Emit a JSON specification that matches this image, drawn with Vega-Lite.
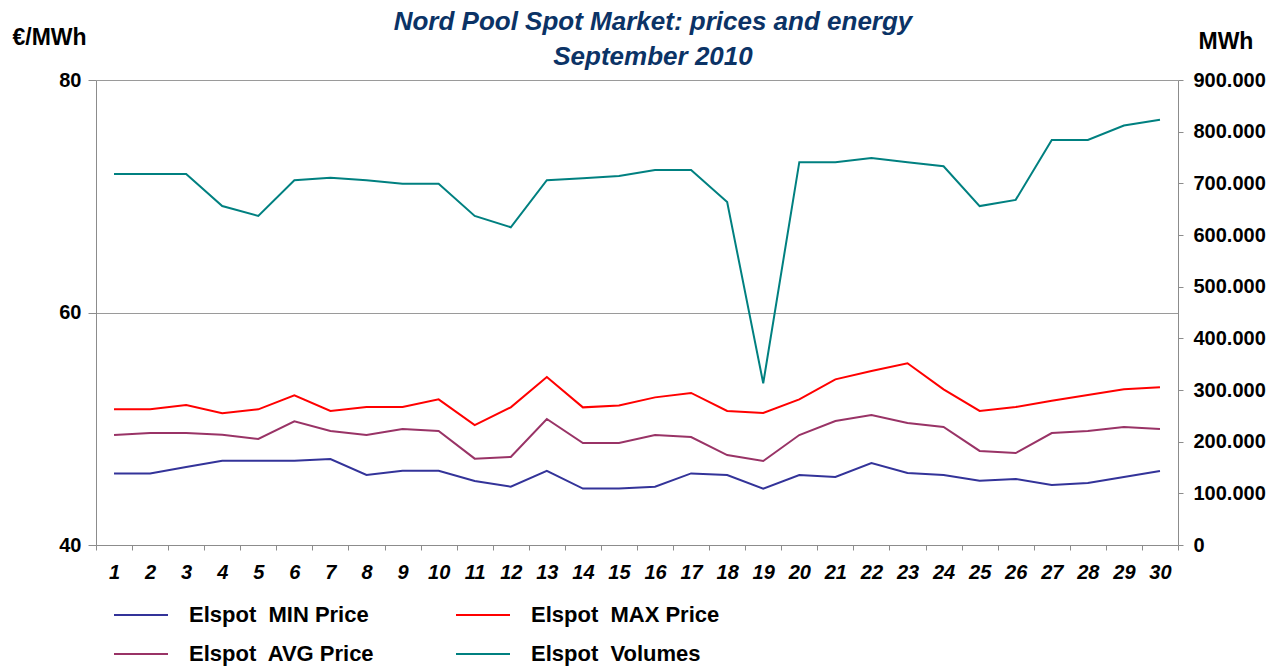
{
  "$schema": "https://vega.github.io/schema/vega-lite/v6.json",
  "autosize": {"type": "none"},
  "padding": {"left": 96, "top": 80, "right": 110, "bottom": 123},
  "width": 1082,
  "height": 465,
  "background": "white",
  "config": {
    "font": "Liberation Sans",
    "view": {"stroke": null},
    "axis": {"domainColor": "#8c8c8c", "tickColor": "#8c8c8c", "gridColor": "#9a9a9a", "labelColor": "black", "titleColor": "black"}
  },
  "title": {
    "text": ["Nord Pool Spot Market: prices and energy", "September 2010"],
    "anchor": "middle",
    "frame": "group",
    "fontSize": 26,
    "fontStyle": "italic",
    "fontWeight": "bold",
    "color": "#0B3366",
    "font": "Liberation Sans",
    "lineHeight": 35,
    "offset": -44,
    "dx": 16
  },
  "data": {
    "values": [
      {"day": 1, "min": 46.16, "max": 51.67, "avg": 49.46, "volume": 718000},
      {"day": 2, "min": 46.16, "max": 51.67, "avg": 49.63, "volume": 718000},
      {"day": 3, "min": 46.71, "max": 52.04, "avg": 49.63, "volume": 718000},
      {"day": 4, "min": 47.25, "max": 51.33, "avg": 49.49, "volume": 656000},
      {"day": 5, "min": 47.25, "max": 51.67, "avg": 49.12, "volume": 637000},
      {"day": 6, "min": 47.25, "max": 52.88, "avg": 50.64, "volume": 706000},
      {"day": 7, "min": 47.40, "max": 51.53, "avg": 49.81, "volume": 711000},
      {"day": 8, "min": 46.02, "max": 51.87, "avg": 49.46, "volume": 706000},
      {"day": 9, "min": 46.39, "max": 51.87, "avg": 49.98, "volume": 699000},
      {"day": 10, "min": 46.39, "max": 52.53, "avg": 49.81, "volume": 699000},
      {"day": 11, "min": 45.50, "max": 50.32, "avg": 47.43, "volume": 637000},
      {"day": 12, "min": 45.02, "max": 51.84, "avg": 47.57, "volume": 615000},
      {"day": 13, "min": 46.37, "max": 54.45, "avg": 50.84, "volume": 706000},
      {"day": 14, "min": 44.85, "max": 51.84, "avg": 48.77, "volume": 710000},
      {"day": 15, "min": 44.85, "max": 52.01, "avg": 48.77, "volume": 714000},
      {"day": 16, "min": 45.02, "max": 52.70, "avg": 49.46, "volume": 726000},
      {"day": 17, "min": 46.16, "max": 53.08, "avg": 49.29, "volume": 726000},
      {"day": 18, "min": 46.02, "max": 51.53, "avg": 47.74, "volume": 664000},
      {"day": 19, "min": 44.85, "max": 51.35, "avg": 47.23, "volume": 313000},
      {"day": 20, "min": 46.02, "max": 52.53, "avg": 49.46, "volume": 741000},
      {"day": 21, "min": 45.85, "max": 54.25, "avg": 50.67, "volume": 741000},
      {"day": 22, "min": 47.05, "max": 54.97, "avg": 51.18, "volume": 749000},
      {"day": 23, "min": 46.19, "max": 55.63, "avg": 50.49, "volume": 741000},
      {"day": 24, "min": 46.02, "max": 53.39, "avg": 50.15, "volume": 733000},
      {"day": 25, "min": 45.53, "max": 51.53, "avg": 48.09, "volume": 656000},
      {"day": 26, "min": 45.68, "max": 51.87, "avg": 47.91, "volume": 668000},
      {"day": 27, "min": 45.16, "max": 52.41, "avg": 49.63, "volume": 784000},
      {"day": 28, "min": 45.33, "max": 52.90, "avg": 49.81, "volume": 784000},
      {"day": 29, "min": 45.85, "max": 53.39, "avg": 50.15, "volume": 812000},
      {"day": 30, "min": 46.37, "max": 53.56, "avg": 49.98, "volume": 823000}
    ]
  },
  "encoding": {
    "x": {
      "field": "day",
      "type": "ordinal",
      "bandPosition": 0.5,
      "scale": {"type": "band", "paddingInner": 0, "paddingOuter": 0},
      "axis": {
        "title": null,
        "labelAngle": 0,
        "labelFont": "Liberation Sans",
        "labelFontSize": 20,
        "labelFontWeight": "bold",
        "labelFontStyle": "italic",
        "labelPadding": 12,
        "tickBand": "extent",
        "tickSize": 5,
        "grid": false,
        "labelOverlap": false
      }
    },
    "color": {
      "field": "series",
      "type": "nominal",
      "scale": {
        "domain": ["min", "max", "avg", "volume"],
        "range": ["#333399", "#FF0000", "#993366", "#008080"]
      },
      "legend": {
        "title": null,
        "orient": "none",
        "legendX": 17,
        "legendY": 524,
        "direction": "horizontal",
        "columns": 2,
        "padding": 0,
        "symbolType": "stroke",
        "symbolSize": 2916,
        "symbolStrokeWidth": 2,
        "clipHeight": 22,
        "labelOffset": 20,
        "labelLimit": 400,
        "labelFont": "Liberation Sans",
        "labelFontSize": 22,
        "labelFontWeight": "bold",
        "labelColor": "black",
        "columnPadding": 80,
        "rowPadding": 17,
        "labelExpr": "{'min': 'Elspot\u00a0 MIN Price', 'max': 'Elspot\u00a0 MAX Price', 'avg': 'Elspot\u00a0 AVG Price', 'volume': 'Elspot\u00a0 Volumes'}[datum.value]"
      }
    }
  },
  "layer": [
    {
      "transform": [{"fold": ["min", "max", "avg"], "as": ["series", "price"]}],
      "mark": {"type": "line", "strokeWidth": 2},
      "encoding": {
        "y": {
          "field": "price",
          "type": "quantitative",
          "scale": {"domain": [40, 80], "nice": false, "zero": false},
          "axis": {
            "values": [40, 60, 80],
            "grid": true,
            "tickSize": 8,
            "labelPadding": 7,
            "labelFont": "Liberation Sans",
            "labelFontSize": 20,
            "labelFontWeight": "bold",
            "title": "€/MWh",
            "titleAngle": 0,
            "titleAlign": "left",
            "titleBaseline": "alphabetic",
            "titleX": -84,
            "titleY": -36,
            "titleFont": "Liberation Sans",
            "titleFontSize": 23,
            "titleFontWeight": "bold"
          }
        }
      }
    },
    {
      "transform": [{"fold": ["volume"], "as": ["series", "vol"]}],
      "mark": {"type": "line", "strokeWidth": 2},
      "encoding": {
        "y": {
          "field": "vol",
          "type": "quantitative",
          "scale": {"domain": [0, 900000], "nice": false},
          "axis": {
            "orient": "right",
            "values": [0, 100000, 200000, 300000, 400000, 500000, 600000, 700000, 800000, 900000],
            "grid": false,
            "tickSize": 5,
            "labelPadding": 10,
            "labelFont": "Liberation Sans",
            "labelFontSize": 20,
            "labelFontWeight": "bold",
            "labelExpr": "replace(format(datum.value, ','), ',', '.')",
            "title": "MWh",
            "titleAngle": 0,
            "titleAlign": "left",
            "titleBaseline": "alphabetic",
            "titleX": 20,
            "titleY": -32,
            "titleFont": "Liberation Sans",
            "titleFontSize": 23,
            "titleFontWeight": "bold"
          }
        }
      }
    }
  ],
  "resolve": {"scale": {"y": "independent"}}
}
